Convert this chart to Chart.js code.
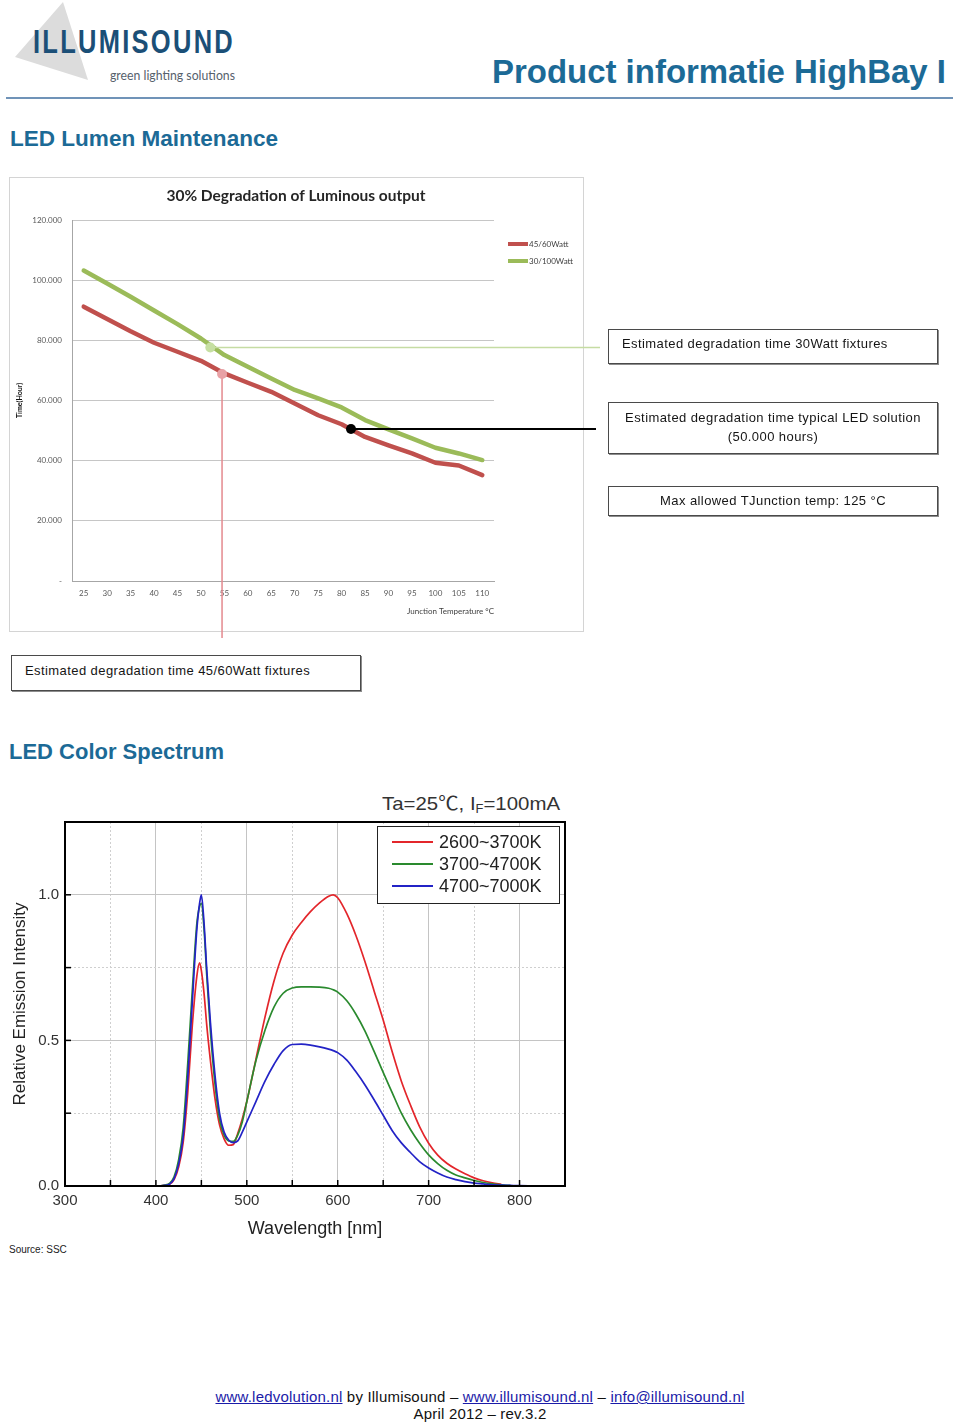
<!DOCTYPE html>
<html>
<head>
<meta charset="utf-8">
<script src="https://cdn.jsdelivr.net/npm/chart.js@4.4.0/dist/chart.umd.min.js"></script>
<style>
  body { margin: 0; background: #fff; }
  #page { position: relative; width: 960px; height: 1425px; overflow: hidden; font-family: "Liberation Sans", Arial, sans-serif; }
  .abs { position: absolute; white-space: nowrap; line-height: 1; }
  .fit { transform-origin: 0 0; }
  .head { color: #1c6a96; font-weight: bold; }
  .note { position: absolute; box-sizing: border-box; border: 1px solid #4a4a4a; box-shadow: 1px 1px 0 #8c8c8c; background: #fff; font-size: 13px; letter-spacing: 0.42px; color: #151515; white-space: nowrap; }
  .foot a { color: #1b1ba8; text-decoration: underline; }
</style>
</head>
<body>
<div id="page">
  <!-- header -->
  <div class="abs" style="left:0;top:0;width:100px;height:90px;background:#dcdcdc;clip-path:polygon(63px 2px,15px 57px,88px 80px);"></div>
  <div class="abs fit" data-w="202" style="left:33px;top:25px;font-size:33.5px;font-weight:bold;letter-spacing:3px;color:#1b4f77;">ILLUMISOUND</div>
  <div class="abs fit" data-w="125" style="left:110px;top:68.5px;font-size:13px;font-family:Lato,sans-serif;color:#56616c;">green lighting solutions</div>
  <div class="abs fit head" data-w="454" style="left:492px;top:53.9px;font-size:34px;">Product informatie HighBay I</div>
  <div class="abs" style="left:6px;top:97px;width:947px;height:2px;background:#7093b8;"></div>

  <div class="abs fit head" data-w="268" style="left:10px;top:128px;font-size:22px;">LED Lumen Maintenance</div>

  <!-- chart 1 -->
  <div class="abs" style="left:9px;top:177px;width:575px;height:455px;border:1px solid #d4d4d4;box-sizing:border-box;"></div>
  <div class="abs" style="left:9px;top:177px;width:600px;height:470px;"><canvas id="lumen" width="600" height="470"></canvas></div>

  <div class="note" style="left:608px;top:329px;width:330px;height:35px;padding:5px 0 0 13px;line-height:18px;">Estimated degradation time 30Watt fixtures</div>
  <div class="note" style="left:608px;top:402px;width:330px;height:52px;padding-top:5px;line-height:19px;text-align:center;">Estimated degradation time typical LED solution<br>(50.000 hours)</div>
  <div class="note" style="left:608px;top:486px;width:330px;height:30px;line-height:28px;text-align:center;">Max allowed TJunction temp: 125 °C</div>
  <div class="note" style="left:11px;top:655px;width:350px;height:36px;padding-left:13px;line-height:30px;">Estimated degradation time 45/60Watt fixtures</div>

  <div class="abs fit head" data-w="215" style="left:9px;top:741.4px;font-size:22px;">LED Color Spectrum</div>

  <!-- chart 2 -->
  <div class="abs fit" data-w="178" style="left:382px;top:793.5px;font-size:19px;color:#333;font-family:'Liberation Sans','Noto Sans CJK SC',sans-serif;">Ta=25℃, I<span style="font-size:12px;vertical-align:-3px;">F</span>=100mA</div>
  <div class="abs" style="left:0;top:780px;width:600px;height:460px;"><canvas id="spectrum" width="600" height="460"></canvas></div>
  <div class="abs" style="left:9px;top:1245px;font-size:10px;color:#222;">Source: SSC</div>

  <!-- footer -->
  <div class="abs foot" style="left:0;width:960px;top:1388px;text-align:center;font-size:15px;line-height:17px;letter-spacing:0.2px;color:#111;">
    <a>www.ledvolution.nl</a> by Illumisound – <a>www.illumisound.nl</a> – <a>info@illumisound.nl</a><br>April 2012 – rev.3.2
  </div>
</div>

<script>
// ---- lumen maintenance data ----
const temps = [25, 30, 35, 40, 45, 50, 55, 60, 65, 70, 75, 80, 85, 90, 95, 100, 105, 110];
const hours4560 = [91200, 87100, 83000, 79200, 76200, 73200, 69000, 65900, 62900, 59000, 55100, 52100, 47900, 45100, 42400, 39300, 38400, 35200];
const hours30100 = [103200, 98900, 94500, 89900, 85400, 80600, 75100, 71200, 67300, 63500, 60700, 57700, 53500, 50400, 47400, 44300, 42400, 40200];
const lumenNames = ['45/60Watt', '30/100Watt'];
// callout points: 30W fixtures, 45/60W fixtures, typical LED
const markerTemps = [52, 54.5, 82];
const markerHours = [77600, 68800, 50500];

// ---- spectrum data ----
const wavelengths = [300, 400, 410, 415, 420, 425, 430, 435, 440, 445, 448, 450, 453, 456, 460, 465, 470, 475, 480, 485, 490, 495, 500, 510, 520, 530, 540, 550, 560, 570, 580, 590, 595, 600, 610, 620, 630, 640, 650, 660, 670, 680, 690, 700, 710, 720, 730, 740, 750, 760, 770, 780, 790, 800, 815];
const warmWhite = [0, 0, 0.002, 0.006, 0.022, 0.065, 0.15, 0.32, 0.55, 0.72, 0.766, 0.74, 0.66, 0.55, 0.43, 0.3, 0.21, 0.162, 0.14, 0.142, 0.18, 0.23, 0.29, 0.435, 0.58, 0.705, 0.8, 0.862, 0.905, 0.942, 0.972, 0.995, 1.0, 0.99, 0.935, 0.86, 0.77, 0.67, 0.57, 0.46, 0.36, 0.278, 0.204, 0.147, 0.106, 0.078, 0.058, 0.042, 0.028, 0.018, 0.011, 0.006, null, null, null];
const neutralWhite = [0, 0, 0.003, 0.009, 0.032, 0.09, 0.2, 0.42, 0.67, 0.9, 0.96, 0.97, 0.88, 0.72, 0.53, 0.35, 0.23, 0.175, 0.155, 0.153, 0.175, 0.22, 0.29, 0.43, 0.535, 0.615, 0.662, 0.68, 0.684, 0.684, 0.683, 0.679, 0.674, 0.666, 0.636, 0.59, 0.532, 0.462, 0.39, 0.32, 0.25, 0.194, 0.147, 0.107, 0.077, 0.054, 0.038, 0.028, 0.019, 0.012, 0.007, 0.004, 0.002, null, null];
const coolWhite = [0, 0, 0.002, 0.006, 0.025, 0.075, 0.17, 0.37, 0.63, 0.88, 0.97, 1.0, 0.9, 0.74, 0.56, 0.38, 0.25, 0.185, 0.158, 0.149, 0.155, 0.185, 0.22, 0.29, 0.36, 0.418, 0.465, 0.486, 0.487, 0.484, 0.478, 0.47, 0.465, 0.458, 0.432, 0.392, 0.347, 0.296, 0.243, 0.19, 0.148, 0.115, 0.084, 0.062, 0.045, 0.031, 0.022, 0.015, 0.01, 0.007, 0.004, 0.003, 0.002, 0.001, 0];
const spectrumNames = ['2600~3700K', '3700~4700K', '4700~7000K'];

// squeeze header text to its width in the original
document.querySelectorAll('.fit').forEach(el => {
    const w = el.getBoundingClientRect().width;
    el.style.transform = 'scaleX(' + (Number(el.dataset.w) / w) + ')';
});

const dotted = n => String(n).replace(/\B(?=(\d{3})+(?!\d))/g, '.');

// title, legend and the callout lines of the lumen chart
const lumenDecor = {
    id: 'lumenDecor',
    afterDatasetsDraw(chart) {
        const { ctx, scales: { x, y } } = chart;
        const looks = [
            { line: '#c5dca3', dot: '#c6dfa2', dir: 'h', to: 591, w: 1.5 },
            { line: '#e4898e', dot: '#e8a1a5', dir: 'v', to: 461, w: 1.5 },
            { line: '#000000', dot: '#000000', dir: 'h', to: 587, w: 2 },
        ];
        ctx.save();
        const pts = markerTemps.map((t, i) => ({
            px: x.getPixelForValue((t - temps[0]) / (temps[1] - temps[0])),
            py: y.getPixelForValue(markerHours[i]),
        }));
        pts.forEach((p, i) => {
            const s = looks[i];
            ctx.strokeStyle = s.line;
            ctx.lineWidth = s.w;
            ctx.beginPath();
            ctx.moveTo(p.px, p.py);
            if (s.dir === 'h') ctx.lineTo(s.to, p.py); else ctx.lineTo(p.px, s.to);
            ctx.stroke();
        });
        pts.forEach((p, i) => {
            ctx.fillStyle = looks[i].dot;
            ctx.beginPath();
            ctx.arc(p.px, p.py, 5, 0, Math.PI * 2);
            ctx.fill();
        });
        ctx.restore();
    },
    afterDraw(chart) {
        const { ctx, chartArea: a } = chart;
        ctx.save();
        ctx.fillStyle = '#262626';
        ctx.font = 'bold 15.5px Lato, sans-serif';
        ctx.textAlign = 'center';
        ctx.textBaseline = 'middle';
        ctx.fillText('30% Degradation of Luminous output', (a.left + a.right) / 2 + 13, 19);
        ctx.font = '8px Lato, sans-serif';
        ctx.textAlign = 'left';
        chart.data.datasets.forEach((ds, i) => {
            const ly = a.top + 24 + i * 17;
            ctx.strokeStyle = ds.borderColor;
            ctx.lineWidth = 4;
            ctx.beginPath();
            ctx.moveTo(a.right + 14, ly);
            ctx.lineTo(a.right + 34, ly);
            ctx.stroke();
            ctx.fillStyle = '#404040';
            ctx.fillText(ds.label, a.right + 35, ly);
        });
        ctx.restore();
    }
};

new Chart(document.getElementById('lumen'), {
    type: 'line',
    data: {
        labels: temps,
        datasets: [
            { label: lumenNames[0], data: hours4560, borderColor: '#c0504d', borderWidth: 4.5, pointRadius: 0, tension: 0, borderCapStyle: 'round', borderJoinStyle: 'round' },
            { label: lumenNames[1], data: hours30100, borderColor: '#9bbb59', borderWidth: 4.5, pointRadius: 0, tension: 0, borderCapStyle: 'round', borderJoinStyle: 'round' },
        ],
    },
    options: {
        responsive: false,
        animation: false,
        devicePixelRatio: 1,
        layout: { padding: { top: 43, right: 115, left: 0, bottom: 0 } },
        plugins: { legend: { display: false }, title: { display: false }, tooltip: { enabled: false } },
        scales: {
            x: {
                offset: true,
                grid: { display: false, drawTicks: false },
                border: { color: '#a6a6a6', width: 1 },
                ticks: { color: '#595959', font: { size: 8, family: 'Lato' }, padding: 8, autoSkip: false, maxRotation: 0 },
                title: { display: true, text: 'Junction Temperature °C', align: 'end', color: '#404040', font: { size: 8, family: 'Lato' }, padding: { top: 0, bottom: 31 } },
                afterFit: s => { s.height = 66; },
            },
            y: {
                min: 0,
                max: 120000,
                grid: { color: '#c6c6c6', drawTicks: false },
                border: { color: '#a6a6a6', width: 1 },
                ticks: { stepSize: 20000, color: '#595959', font: { size: 8, family: 'Lato' }, padding: 10, callback: v => v === 0 ? '-' : dotted(v) },
                title: { display: true, text: 'Time(Hour)', color: '#111', font: { size: 7, weight: 'bold', family: 'Lato' }, padding: { top: 7, bottom: 0 } },
                afterFit: s => { s.width = 63; },
            },
        },
    },
    plugins: [lumenDecor],
});

// frame, inside tick marks and boxed legend of the spectrum chart
const isMajor = (v, step) => Math.abs(v / step - Math.round(v / step)) < 1e-6;
const spectrumDecor = {
    id: 'spectrumDecor',
    afterDraw(chart) {
        const { ctx, chartArea: a, scales: { x, y } } = chart;
        ctx.save();
        ctx.strokeStyle = '#000';
        ctx.lineWidth = 2;
        ctx.strokeRect(a.left, a.top, a.right - a.left, a.bottom - a.top);
        ctx.lineWidth = 1.5;
        x.ticks.forEach(t => {
            const px = x.getPixelForValue(t.value);
            ctx.beginPath(); ctx.moveTo(px, a.bottom); ctx.lineTo(px, a.bottom - 6); ctx.stroke();
        });
        y.ticks.forEach(t => {
            const py = y.getPixelForValue(t.value);
            ctx.beginPath(); ctx.moveTo(a.left, py); ctx.lineTo(a.left + 6, py); ctx.stroke();
        });
        // legend box
        const bw = 182, bh = 77, bx = a.right - 6 - bw, by = a.top + 4;
        ctx.fillStyle = '#fff';
        ctx.fillRect(bx, by, bw, bh);
        ctx.strokeStyle = '#222';
        ctx.lineWidth = 1;
        ctx.strokeRect(bx + 0.5, by + 0.5, bw, bh);
        ctx.font = '18px "Liberation Sans", Arial, sans-serif';
        ctx.textBaseline = 'middle';
        chart.data.datasets.forEach((ds, i) => {
            const ly = by + 16 + i * 22;
            ctx.strokeStyle = ds.borderColor;
            ctx.lineWidth = 2;
            ctx.beginPath(); ctx.moveTo(bx + 15, ly); ctx.lineTo(bx + 56, ly); ctx.stroke();
            ctx.fillStyle = '#222';
            ctx.fillText(ds.label, bx + 62, ly + 1);
        });
        ctx.restore();
    }
};

const toPoints = vals => wavelengths.map((w, i) => ({ x: w, y: vals[i] }));
const specLine = { pointRadius: 0, borderWidth: 1.7, tension: 0.4, cubicInterpolationMode: 'monotone', fill: false };

new Chart(document.getElementById('spectrum'), {
    type: 'line',
    data: {
        datasets: [
            { ...specLine, label: spectrumNames[0], data: toPoints(warmWhite), borderColor: '#e3262b', order: 2 },
            { ...specLine, label: spectrumNames[1], data: toPoints(neutralWhite), borderColor: '#2a8a2e', order: 1 },
            { ...specLine, label: spectrumNames[2], data: toPoints(coolWhite), borderColor: '#2323c6', order: 0 },
        ],
    },
    options: {
        responsive: false,
        animation: false,
        devicePixelRatio: 1,
        layout: { padding: { top: 42, right: 35, left: 0, bottom: 0 } },
        plugins: { legend: { display: false }, tooltip: { enabled: false } },
        scales: {
            x: {
                type: 'linear',
                min: 300,
                max: 850,
                grid: {
                    drawTicks: false,
                    color: c => c.tick && isMajor(c.tick.value, 100) ? '#c4c4c4' : '#cfcfcf',
                },
                border: { color: '#000', width: 2, dash: c => c.tick && !isMajor(c.tick.value, 100) ? [2, 2] : [] },
                ticks: { stepSize: 50, autoSkip: false, maxRotation: 0, padding: 6, color: '#333', font: { size: 15, family: 'Liberation Sans' }, callback: v => isMajor(v, 100) ? v : '' },
                title: { display: true, text: 'Wavelength [nm]', color: '#222', font: { size: 18, family: 'Liberation Sans' }, padding: { top: 0, bottom: 0 } },
                afterFit: s => { s.height = 54; },
            },
            y: {
                min: 0,
                max: 1.25,
                grid: {
                    drawTicks: false,
                    color: c => c.tick && isMajor(c.tick.value, 0.5) ? '#c4c4c4' : '#cfcfcf',
                },
                border: { color: '#000', width: 2, dash: c => c.tick && !isMajor(c.tick.value, 0.5) ? [2, 2] : [] },
                ticks: { stepSize: 0.25, padding: 6, color: '#333', font: { size: 15, family: 'Liberation Sans' }, callback: v => isMajor(v, 0.5) && v < 1.2 ? v.toFixed(1) : '' },
                title: { display: true, text: 'Relative Emission Intensity', color: '#222', font: { size: 17, family: 'Liberation Sans' }, padding: { top: 10, bottom: 0 } },
                afterFit: s => { s.width = 65; },
            },
        },
    },
    plugins: [spectrumDecor],
});
</script>
</body>
</html>
